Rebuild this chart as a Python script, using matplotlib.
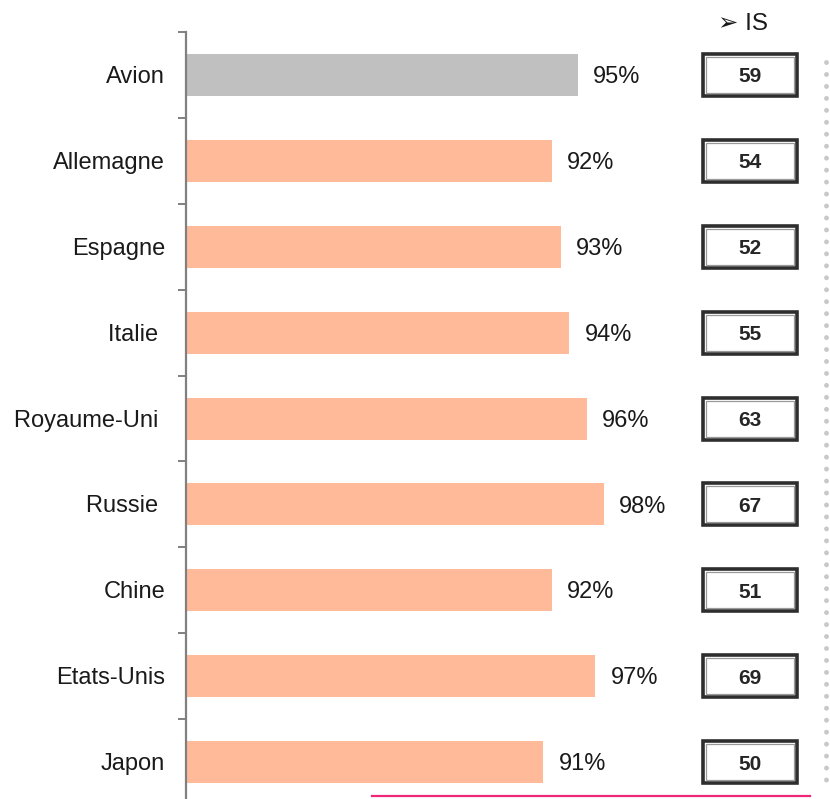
import matplotlib.pyplot as plt
import matplotlib.patches as patches
import matplotlib.transforms as mtransforms
from matplotlib.lines import Line2D
import numpy as np

plt.rcParams['font.family'] = ['Liberation Sans', 'DejaVu Sans']

# data
categories = ['Avion', 'Allemagne', 'Espagne', 'Italie ', 'Royaume-Uni ',
              'Russie ', 'Chine', 'Etats-Unis', 'Japon']
pct = [95, 92, 93, 94, 96, 98, 92, 97, 91]
pct_labels = ['95%', '92%', '93%', '94%', '96%', '98%', '92%', '97%', '91%']
is_scores = [59, 54, 52, 55, 63, 67, 51, 69, 50]
bar_colors = ['#c0c0c0'] + ['#ffbb99'] * 8

y = np.arange(len(categories))

fig = plt.figure(figsize=(8.3, 7.99), dpi=100)
ax = fig.add_axes([186 / 830, 0.0, 644 / 830, 1 - 32 / 799])

base = 50
ax.barh(y, np.array(pct) - base, left=base, height=0.49, color=bar_colors)
ax.set_xlim(base, base + 644 / 8.71)
ax.set_ylim(-0.5 + 767 / 85.9, -0.5)

# spines / ticks
for s in ['top', 'right', 'bottom']:
    ax.spines[s].set_visible(False)
ax.spines['left'].set_color('#808080')
ax.spines['left'].set_linewidth(1.6)
ax.set_xticks([])
ax.set_yticks(np.arange(-0.5, len(categories) - 1, 1.0))
ax.set_yticklabels([])
ax.tick_params(axis='y', direction='out', length=6, width=1.4, color='#808080')

# shift text down a couple of pixels so it sits on the bar centre
down = mtransforms.ScaledTranslation(0, -2 / 100, fig.dpi_scale_trans)
ytr = ax.get_yaxis_transform()

# category labels
for yi, name in zip(y, categories):
    ax.text(-21 / 644, yi, name, transform=ytr + down,
            ha='right', va='center', fontsize=17, color='#1a1a1a')

# value labels
for yi, v, lab in zip(y, pct, pct_labels):
    ax.annotate(lab, (v, yi), xytext=(11, -1.5), textcoords='offset points',
                ha='left', va='center', fontsize=17, color='#1a1a1a')

# IS boxes
bx0, bw = (703 - 186) / 644, (797 - 703) / 644
bh = 0.49
px = 3.0 / 644
py = 3.0 / 85.9
for yi, sc in zip(y, is_scores):
    ax.add_patch(patches.Rectangle((bx0, yi - bh / 2), bw, bh, transform=ytr,
                                   facecolor='white', edgecolor='#2e2e2e',
                                   linewidth=2.6, clip_on=False))
    ax.add_patch(patches.Rectangle((bx0 + px, yi - bh / 2 + py), bw - 2 * px,
                                   bh - 2 * py, transform=ytr, facecolor='none',
                                   edgecolor='#9a9a9a', linewidth=0.9,
                                   clip_on=False))
    ax.text(bx0 + bw / 2, yi, str(sc), transform=ytr + down, ha='center',
            va='center', fontsize=15, fontweight='bold', color='#262626')

fig.text(743 / 830, 1 - 24 / 799, '\u27a2 IS', ha='center', va='center',
         fontsize=17.5, color='#1a1a1a')

# dotted separator and pink rule
fig.add_artist(Line2D([826 / 830, 826 / 830], [1 - 62 / 799, 1 - 790 / 799],
                      transform=fig.transFigure, color='#c8c8c8', lw=3.5,
                      linestyle=(0, (0.01, 2.45)), dash_capstyle='round'))
fig.add_artist(Line2D([372 / 830, 810 / 830], [1 - 796 / 799, 1 - 796 / 799],
                      transform=fig.transFigure, color='#f0287a', lw=1.6))

fig.savefig('out.png', dpi=100)
